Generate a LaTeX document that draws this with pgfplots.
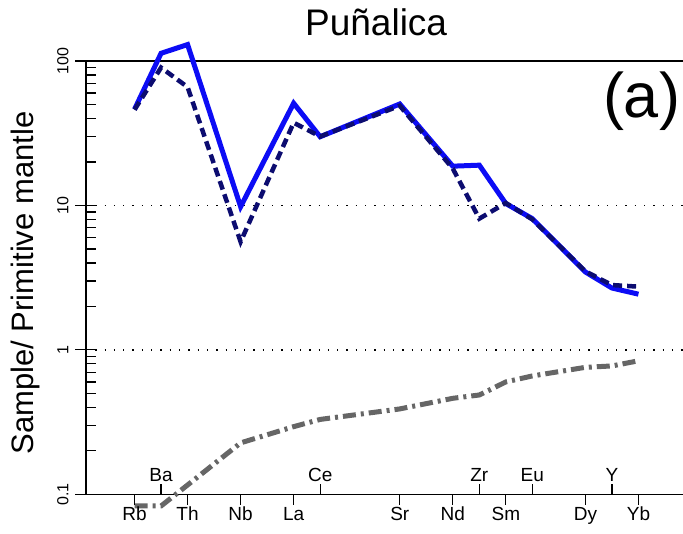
\documentclass[border=0pt]{standalone}
\usepackage{fontspec}
\setmainfont{Liberation Sans}
\usepackage{pgfplots}
\pgfplotsset{compat=1.18}

\definecolor{sampleblue}{RGB}{12,12,245}
\definecolor{samplenavy}{RGB}{12,12,112}
\definecolor{mantlegray}{RGB}{102,102,102}
\newcommand\fs[1]{\fontsize{#1}{#1}\selectfont}

% x = position in the spider diagram (Rb=0 ... Yb=19)
\pgfplotstableread{
x  solid  dashed  mantle
0  46.3   46.0    0.083
1  113    90      0.083
2  130    66      0.116
4  9.8    5.6     0.227
6  51     37.4    0.294
7  29.9   30      0.330
10 50.4   49      0.390
12 18.7   18.0    0.462
13 19.0   8.1     0.487
14 10.3   10.4    0.600
15 8.1    8.0     0.660
17 3.46   3.5     0.757
18 2.68   2.81    0.774
19 2.43   2.74    0.840
}\spider

% element ticks below / above the bottom line
\newcommand\elemdown[2]{%
  \draw[line width=1.2bp] (axis cs:#1,0.1) -- ([yshift=-11bp]axis cs:#1,0.1);
  \node[anchor=base, font=\fs{19bp}] at ([yshift=-25.7bp]axis cs:#1,0.1) {#2};}
\newcommand\elemup[2]{%
  \draw[line width=1.2bp] (axis cs:#1,0.1) -- ([yshift=10bp]axis cs:#1,0.1);
  \node[anchor=base, font=\fs{19bp}] at ([yshift=12.6bp]axis cs:#1,0.1) {#2};}

\begin{document}
\begin{tikzpicture}
\begin{axis}[
  scale only axis, width=597bp, height=433.3bp,
  xmin=-1.83, xmax=20.68, ymode=log, ymin=0.1, ymax=100,
  axis x line=bottom, axis y line=left,
  axis line style={-, line width=1.2bp, black},
  xtick=\empty,
  ytick={0.1,1,10,100}, yticklabels={},
  tick align=center, major tick length=21bp, minor tick length=0pt,
  tick style={line width=1.2bp, black},
  extra y ticks={0.2,0.3,0.4,0.5,0.6,0.7,0.8,0.9,2,3,4,5,6,7,8,9,20,30,40,50,60,70,80,90},
  extra y tick labels={},
  extra y tick style={tick align=inside, major tick length=10bp},
  clip=false,
]
\coordinate (bl) at (rel axis cs:0,0);
\coordinate (tr) at (rel axis cs:1,1);

% reference lines
\draw[line width=1.3bp] ([xshift=-10bp]axis cs:-1.83,100) -- (axis cs:20.68,100);
\draw[line width=1.3bp, dash pattern=on 1.3bp off 8bp] (axis cs:-1.83,10) -- (axis cs:20.68,10);
\draw[line width=1.3bp, dash pattern=on 1.3bp off 8bp] (axis cs:-1.83,1) -- (axis cs:20.68,1);

% series
\addplot[mantlegray, line width=5bp, dash pattern=on 13bp off 5bp on 3bp off 5bp] table[x=x, y=mantle] {\spider};
\addplot[sampleblue, line width=5bp] table[x=x, y=solid] {\spider};
\addplot[samplenavy, line width=4.5bp, dash pattern=on 9bp off 5bp] table[x=x, y=dashed] {\spider};

\elemdown{0}{Rb}\elemdown{2}{Th}\elemdown{4}{Nb}\elemdown{6}{La}\elemdown{10}{Sr}
\elemdown{12}{Nd}\elemdown{14}{Sm}\elemdown{17}{Dy}\elemdown{19}{Yb}
\elemup{1}{Ba}\elemup{7}{Ce}\elemup{13}{Zr}\elemup{15}{Eu}\elemup{18}{Y}

% y tick numbers
\node[rotate=90, anchor=base, font=\fs{16bp}] at ([xshift=-17.7bp]axis cs:-1.83,0.1) {0.1};
\node[rotate=90, anchor=base, font=\fs{16bp}] at ([xshift=-17.7bp]axis cs:-1.83,1) {1};
\node[rotate=90, anchor=base, font=\fs{16bp}] at ([xshift=-17.7bp]axis cs:-1.83,10) {10};
\node[rotate=90, anchor=base, font=\fs{16bp}] at ([xshift=-17.7bp]axis cs:-1.83,100) {100};

% labels
\node[rotate=90, anchor=base, font=\fs{31bp}] at ([xshift=-52.5bp]rel axis cs:0,0.4877) {Sample/ Primitive mantle};
\node[anchor=base, font=\fs{37bp}] at ([yshift=25bp]rel axis cs:0.486,1) {Puñalica};
\node[anchor=base, font=\fs{63bp}] at (rel axis cs:0.9305,0.8707) {(a)};
\end{axis}
\pgfresetboundingbox
\useasboundingbox ([shift={(-86bp,-39.7bp)}]bl) rectangle ([shift={(0bp,61bp)}]tr);
\end{tikzpicture}
\end{document}
